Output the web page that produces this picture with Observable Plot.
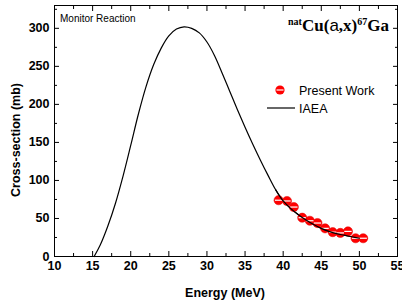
<!DOCTYPE html>
<html><head><meta charset="utf-8">
<script src="https://cdn.jsdelivr.net/npm/d3@7"></script>
<script src="https://cdn.jsdelivr.net/npm/@observablehq/plot@0.6"></script>
<style>body{margin:0;background:#fff}#chart{position:relative;width:402px;height:305px}</style>
</head><body><div id="chart"></div>
<script>
const iaeaEnergy = [15.2,16,17,18,19,20,21,22,23,24,25,26,27,28,29,30,31,32,33,34,35,36,37,38,39,40,41,42,43,44,45,46,47,48,49,50];
const iaeaXs =     [0,15,40,70,106,146,187,223,252,274,290,299,302,300,294,282,264,241,217,193,170,148,127,107,88,73,63,55,48,42,37,33,30,28,26,24];
const workEnergy = [39.4,40.5,41.4,42.5,43.5,44.5,45.5,46.5,47.5,48.5,49.5,50.5];
const workXs =     [74,73,65,51,47,44,37,32,31,33,24,24];
const xMajor = [10,15,20,25,30,35,40,45,50,55];
const xMinor = [12.5,17.5,22.5,27.5,32.5,37.5,42.5,47.5,52.5];
const yMajor = [0,50,100,150,200,250,300];
const yMinor = [25,75,125,175,225,275,325];

const iaea = iaeaEnergy.map((e,i)=>({e, v: iaeaXs[i]}));
const work = workEnergy.map((e,i)=>({e, v: workXs[i]}));
const blank = () => "";
const dash = {draw(ctx, size){ const r = Math.sqrt(size/Math.PI); ctx.moveTo(-r*0.8,0); ctx.lineTo(r*0.8,0);} };

const plot = Plot.plot({
  width: 402, height: 305,
  marginLeft: 54, marginRight: 5, marginTop: 5, marginBottom: 49,
  style: {fontFamily: "Liberation Sans, Arial, sans-serif", background: "#fff", overflow: "visible"},
  x: {domain: [10,55]},
  y: {domain: [0,330]},
  marks: [
    Plot.frame({stroke: "#000", strokeWidth: 1}),
    Plot.axisX({ticks: xMajor, tickSize: -5, tickPadding: 10, fontSize: 12.5, fontWeight: "bold", label: null}),
    Plot.axisX({ticks: xMinor, tickSize: -3, tickFormat: blank, label: null}),
    Plot.axisX({anchor: "top", ticks: xMajor, tickSize: -5, tickFormat: blank, label: null}),
    Plot.axisX({anchor: "top", ticks: xMinor, tickSize: -3, tickFormat: blank, label: null}),
    Plot.axisY({ticks: yMajor, tickSize: -5, tickPadding: 10, fontSize: 12.5, fontWeight: "bold", label: null}),
    Plot.axisY({ticks: yMinor, tickSize: -3, tickFormat: blank, label: null}),
    Plot.axisY({anchor: "right", ticks: yMajor, tickSize: -5, tickFormat: blank, label: null}),
    Plot.axisY({anchor: "right", ticks: yMinor, tickSize: -3, tickFormat: blank, label: null}),
    Plot.line(iaea, {x: "e", y: "v", curve: "catmull-rom", stroke: "#000", strokeWidth: 1.2}),
    Plot.dot(work, {x: "e", y: "v", r: 4.6, fill: "#ff0000", stroke: "#e00000", strokeWidth: 0.5}),
    Plot.dot(work, {x: "e", y: "v", r: 4.6, symbol: dash, stroke: "#fff", strokeWidth: 1.2, fill: "none"}),
    Plot.line(iaea.filter(d=>d.e>=39), {x: "e", y: "v", curve: "catmull-rom", stroke: "#000", strokeWidth: 1.2})
  ]
});
document.getElementById("chart").appendChild(plot);
const svg = d3.select(plot);
const sans = "Liberation Sans, Arial, sans-serif";
svg.append("text").attr("x", 60).attr("y", 22).attr("text-anchor","start").attr("font-family", sans).attr("font-size", 10).attr("fill","#000").text("Monitor Reaction");
const t = svg.append("text").attr("x", 389).attr("y", 31).attr("text-anchor","end")
  .attr("font-family", "Liberation Serif, Times New Roman, serif").attr("font-weight","bold").attr("fill","#000").attr("font-size", 17);
t.append("tspan").attr("font-size", 10).attr("dy", -6).text("nat");
t.append("tspan").attr("dy", 6).text("Cu(");
t.append("tspan").attr("font-family", sans).attr("font-weight","normal").text("a");
t.append("tspan").text(",x)");
t.append("tspan").attr("font-size", 10).attr("dy", -6).text("67");
t.append("tspan").attr("dy", 6).text("Ga");
// legend
svg.append("circle").attr("cx", 280).attr("cy", 90).attr("r", 4.6).attr("fill","#ff0000");
svg.append("line").attr("x1", 276.5).attr("x2", 283.5).attr("y1", 90).attr("y2", 90).attr("stroke","#fff").attr("stroke-width",1.2);
svg.append("text").attr("x", 299).attr("y", 94.5).attr("text-anchor","start").attr("font-family", sans).attr("font-size", 12.5).attr("fill","#000").text("Present Work");
svg.append("line").attr("x1", 267).attr("x2", 295).attr("y1", 108).attr("y2", 108).attr("stroke","#000").attr("stroke-width",1.2);
svg.append("text").attr("x", 299).attr("y", 113).attr("text-anchor","start").attr("font-family", sans).attr("font-size", 12.5).attr("fill","#000").text("IAEA");
// axis titles
svg.append("text").attr("x", 225).attr("y", 297).attr("text-anchor","middle").attr("font-family", sans).attr("font-weight","bold").attr("font-size", 12.5).attr("fill","#000").text("Energy (MeV)");
svg.append("text").attr("transform","translate(20,140) rotate(-90)").attr("text-anchor","middle").attr("font-family", sans).attr("font-weight","bold").attr("font-size", 12.5).attr("fill","#000").text("Cross-section (mb)");
</script></body></html>
